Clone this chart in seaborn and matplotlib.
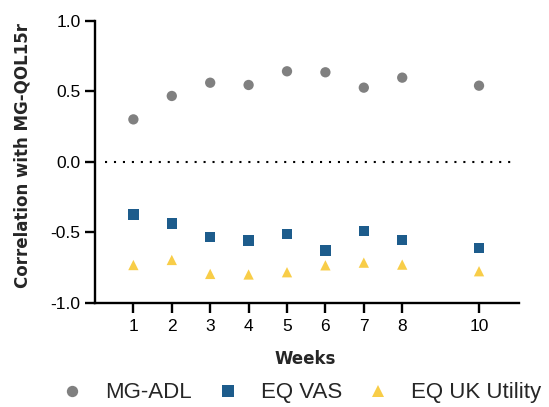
import numpy as np
import pandas as pd
import seaborn as sns
import matplotlib.pyplot as plt

# values
weeks = [1, 2, 3, 4, 5, 6, 7, 8, 10]
mg_adl = [0.30, 0.466, 0.56, 0.544, 0.641, 0.634, 0.525, 0.596, 0.539]
eq_vas = [-0.375, -0.439, -0.533, -0.56, -0.514, -0.63, -0.49, -0.557, -0.611]
eq_uk = [-0.733, -0.697, -0.796, -0.80, -0.784, -0.735, -0.716, -0.73, -0.777]
measures = ['MG-ADL', 'EQ VAS', 'EQ UK Utility']
yticks = [-1.0, -0.5, 0.0, 0.5, 1.0]

df = pd.DataFrame({
    'Weeks': weeks * 3,
    'r': mg_adl + eq_vas + eq_uk,
    'Measure': np.repeat(measures, len(weeks)),
})

sns.set_style('ticks')
plt.rcParams['font.family'] = ['Liberation Sans', 'DejaVu Sans']

fig = plt.figure(figsize=(5.49, 4.07), dpi=100)
ax = fig.add_axes([0.173, 0.2563, 0.7723, 0.6929])

pal = {'MG-ADL': '#808080', 'EQ VAS': '#1d5c8c', 'EQ UK Utility': '#f8cd48'}
mk = {'MG-ADL': 'o', 'EQ VAS': 's', 'EQ UK Utility': '^'}
sns.scatterplot(data=df, x='Weeks', y='r', hue='Measure', style='Measure',
                palette=pal, markers=mk, s=55, linewidth=0, ax=ax)

# dotted zero line
ax.axhline(0, xmin=0.0245, xmax=0.982, color='black', ls=(0, (1, 3.3)), lw=1.5)

ax.set_xlim(0, 11.04)
ax.set_ylim(-1, 1)
ax.set_xticks(weeks)
ax.set_yticks(yticks)
ax.set_yticklabels([f'{v:.1f}' for v in yticks])
ax.tick_params(axis='both', labelsize=12.5, width=1.7, length=7, color='black',
               labelcolor='black')
ax.tick_params(axis='x', pad=5)
ax.tick_params(axis='y', pad=3.5)
for s in ['left', 'bottom']:
    ax.spines[s].set_linewidth(1.7)
    ax.spines[s].set_color('black')
sns.despine(ax=ax)

lab = dict(fontsize=12, fontweight='bold', family='DejaVu Sans')
ax.set_xlabel('Weeks', **lab)
ax.set_ylabel('Correlation with MG-QOL15r', **lab)
ax.xaxis.set_label_coords(0.495, -0.168)
ax.yaxis.set_label_coords(-0.149, 0.522)

sns.move_legend(ax, 'center', bbox_to_anchor=(0.483, -0.32), ncol=3, frameon=False,
                title=None, fontsize=16, handlelength=1.2, handletextpad=0.89,
                columnspacing=1.02, markerscale=1.1)

fig.savefig('out.png', dpi=100)
